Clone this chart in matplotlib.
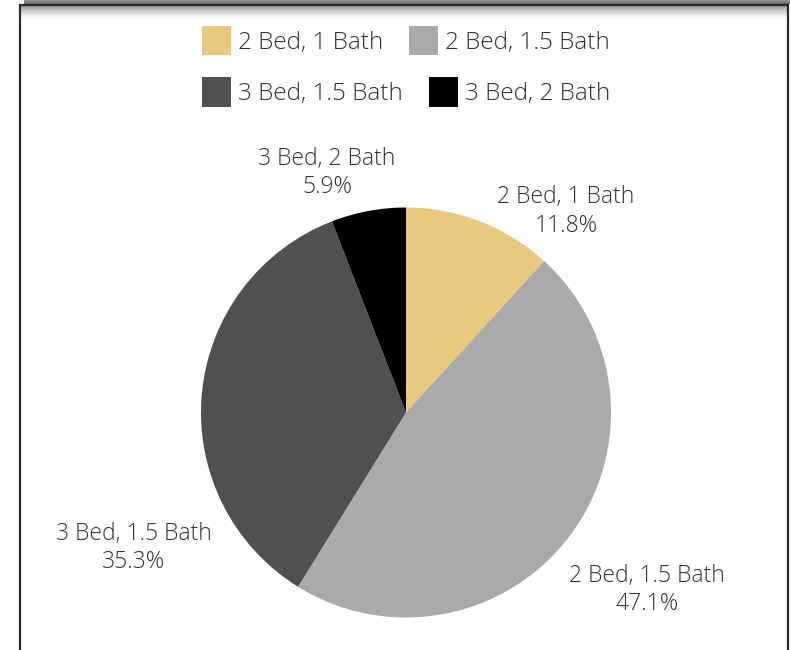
import numpy as np
import matplotlib
matplotlib.use("Agg")
import matplotlib.pyplot as plt
from matplotlib.patches import Patch

plt.rcParams['font.family'] = ['Open Sans', 'DejaVu Sans']
plt.rcParams['font.weight'] = 'light'

# data
categories = ['2 Bed, 1 Bath', '2 Bed, 1.5 Bath', '3 Bed, 1.5 Bath', '3 Bed, 2 Bath']
counts = [2, 8, 6, 1]
colors = ['#E9C97E', '#AAAAAA', '#505050', '#000000']

# label placement (in pie radius units, relative to centre)
label_pos = [(0.78, 0.98), (1.176, -0.866), (-1.327, -0.661), (-0.385, 1.168)]

text_color = '#333333'

fig = plt.figure(figsize=(7.9, 6.5), dpi=100)

# frame / shadow decoration
bg = fig.add_axes([0, 0, 1, 1], zorder=0)
bg.set_xlim(0, 790)
bg.set_ylim(650, 0)
bg.axis('off')
top_grad = np.linspace(0.62, 0.40, 20).reshape(-1, 1)
bg.imshow(np.dstack([top_grad] * 3), extent=(24, 790, 4.5, 0), aspect='auto')
shadow = np.zeros((40, 1, 4))
shadow[:, 0, 3] = np.linspace(0.55, 0.0, 40) ** 1.5
bg.imshow(shadow, extent=(21, 787, 20, 6), aspect='auto')
bg.plot([20, 20, 788, 788], [650, 5, 5, 650], color='#2b2b2b', lw=1.6,
        solid_joinstyle='miter')
bg.set_xlim(0, 790)
bg.set_ylim(650, 0)

# pie
cx, cy, r = 406, 412.5, 205
ax = fig.add_axes([(cx - r) / 790, (650 - cy - r) / 650, 2 * r / 790, 2 * r / 650], zorder=1)
ax.pie(counts, colors=colors, startangle=90, counterclock=False, radius=1,
       wedgeprops=dict(linewidth=0))
ax.set_xlim(-1, 1)
ax.set_ylim(-1, 1)
ax.axis('off')

total = sum(counts)
for name, val, (lx, ly) in zip(categories, counts, label_pos):
    ax.text(lx, ly, f'{name}\n{100 * val / total:.1f}%', ha='center', va='center',
            fontsize=16.5, color=text_color, linespacing=1.25, clip_on=False)

# legend, two centred rows
handles = [Patch(facecolor=c, edgecolor='none', label=n) for c, n in zip(colors, categories)]
for row, y in enumerate([1 - 40.5 / 650, 1 - 92 / 650]):
    fig.legend(handles=handles[2 * row:2 * row + 2], loc='center',
               bbox_to_anchor=(cx / 790, y), ncol=2, frameon=False,
               fontsize=17.5, labelcolor=text_color, handlelength=1.2, handleheight=1.5,
               handletextpad=0.29, columnspacing=1.07, borderpad=0, borderaxespad=0)

fig.savefig('out.png', dpi=100)
